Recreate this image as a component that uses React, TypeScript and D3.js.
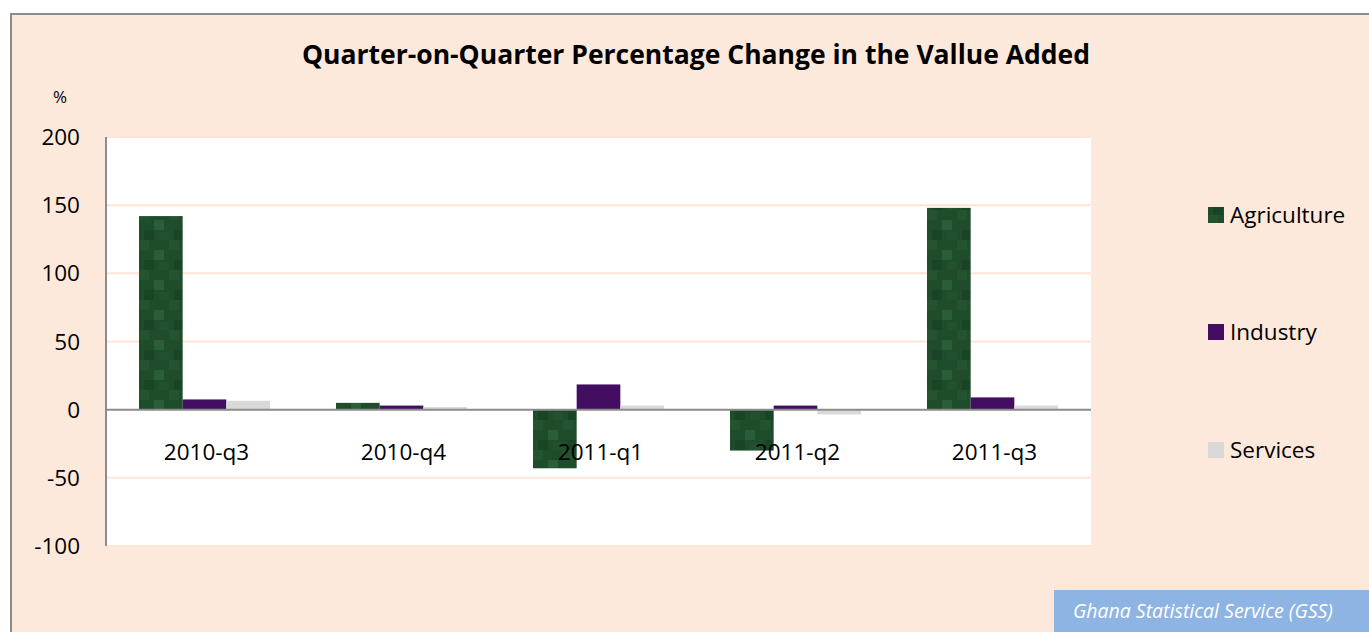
import React from "react";
import * as d3 from "d3";

const categories = ["2010-q3", "2010-q4", "2011-q1", "2011-q2", "2011-q3"];
const seriesNames = ["Agriculture", "Industry", "Services"];
const agriculture = [142, 5, -43, -30, 148];
const industry = [7.5, 3, 18.5, 3, 9];
const services = [6.5, 2, 3, -3.5, 3];
const yTicks = [200, 150, 100, 50, 0, -50, -100];
const colors = ["#1F4D2B", "#430E62", "#D9D9D9"];

export default function App() {
  const W = 1369, H = 632;
  const left = 106, right = 1091, top = 137, bottom = 546;
  const y = d3.scaleLinear().domain([-100, 200]).range([bottom, top]);
  const x0 = d3.scaleBand().domain(categories).range([left, right]).paddingInner(0).paddingOuter(0);
  const inner = 0.335;
  const groupW = x0.bandwidth() * (1 - inner);
  const x1 = d3.scaleBand().domain(seriesNames).range([0, groupW]);
  const data = [agriculture, industry, services];
  const font = "'Open Sans', sans-serif";

  return (
    <svg width={W} height={H} style={{ position: "absolute", left: 0, top: 0, display: "block" }}>
      <defs>
        <pattern id="agri" width="30" height="30" patternUnits="userSpaceOnUse">
          <rect width="30" height="30" fill="#1F4D2B" />
          <rect x="0" y="0" width="10" height="10" fill="#24532F" />
          <rect x="15" y="10" width="10" height="10" fill="#2A5E39" />
          <rect x="5" y="20" width="10" height="10" fill="#194426" />
          <rect x="20" y="22" width="10" height="8" fill="#225030" />
        </pattern>
      </defs>
      <rect x={0} y={0} width={W} height={H} fill="#ffffff" />
      <rect x={11} y={14} width={W + 10} height={H + 10} fill="#FCE9DC" stroke="#8C8C8C" strokeWidth={2} />
      <text x={696} y={64} textAnchor="middle" fontFamily={font} fontWeight="bold" fontSize={26.5} fill="#000">
        Quarter-on-Quarter Percentage Change in the Vallue Added
      </text>
      <text x={60} y={103} textAnchor="middle" fontFamily={font} fontSize={17} fill="#000">%</text>
      <rect x={left} y={top} width={right - left} height={bottom - top} fill="#ffffff" />
      {yTicks.filter((t) => t !== 0).map((t) => (
        <line key={t} x1={left} x2={right} y1={y(t)} y2={y(t)} stroke="#FCE4D6" strokeWidth={2} />
      ))}
      {yTicks.map((t) => (
        <text key={t} x={80} y={y(t) + 8} textAnchor="end" fontFamily={font} fontSize={22.5} fill="#000">{t}</text>
      ))}
      {categories.map((c, i) => (
        <g key={c} transform={`translate(${x0(c)! + (x0.bandwidth() - groupW) / 2},0)`}>
          {data.map((s, j) => {
            const v = s[i];
            return (
              <rect key={j} x={x1(seriesNames[j])} width={x1.bandwidth()} y={y(Math.max(0, v))}
                height={Math.abs(y(v) - y(0))} fill={j === 0 ? "url(#agri)" : colors[j]} />
            );
          })}
        </g>
      ))}
      <line x1={left} x2={left} y1={top} y2={bottom} stroke="#8C8C8C" strokeWidth={2} />
      <line x1={left} x2={right} y1={y(0)} y2={y(0)} stroke="#8C8C8C" strokeWidth={2} />
      {categories.map((c) => (
        <text key={c} x={x0(c)! + x0.bandwidth() / 2 + 2} y={460} textAnchor="middle" fontFamily={font} fontSize={22.5} fill="#000">{c}</text>
      ))}
      {seriesNames.map((n, j) => (
        <g key={n} transform={`translate(1208,${[215, 332, 450][j]})`}>
          <rect x={0} y={-8} width={16} height={16} fill={j === 0 ? "url(#agri)" : colors[j]} />
          <text x={22} y={8} fontFamily={font} fontSize={22.5} fill="#000">{n}</text>
        </g>
      ))}
      <rect x={1054} y={590} width={320} height={50} fill="#8EB4E3" />
      <text x={1073} y={618} fontFamily={font} fontStyle="italic" fontSize={19.5} fill="#ffffff">Ghana Statistical Service (GSS)</text>
    </svg>
  );
}
